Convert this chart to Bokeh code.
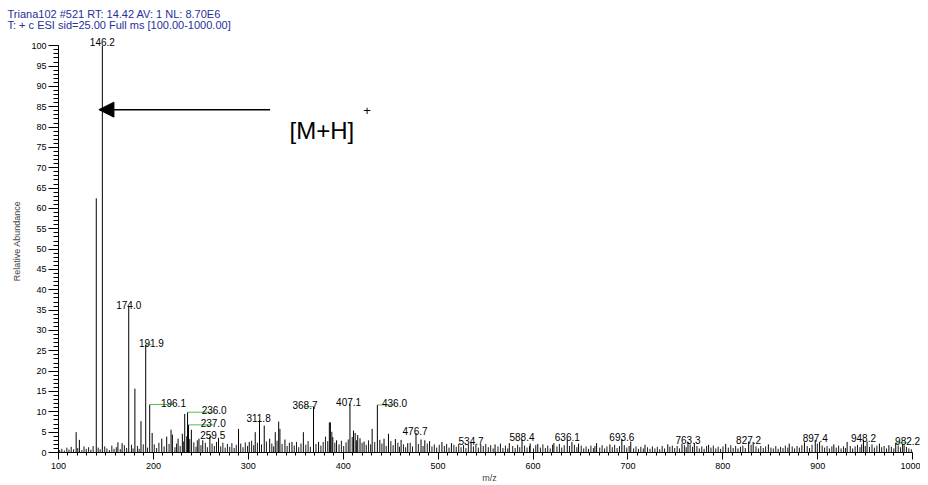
from bokeh.plotting import figure
from bokeh.models import Range1d, FixedTicker, Label, Arrow, NormalHead, ColumnDataSource, Title
from bokeh.core.properties import value
from bokeh.embed import file_html
from bokeh.resources import INLINE

# ---------------- data ----------------
header_1 = "Triana102 #521  RT: 14.42  AV: 1  NL: 8.70E6"
header_2 = "T: + c ESI sid=25.00  Full ms [100.00-1000.00]"

x_ticks = [100, 200, 300, 400, 500, 600, 700, 800, 900, 1000]
y_ticks = [0, 5, 10, 15, 20, 25, 30, 35, 40, 45, 50, 55, 60, 65, 70, 75, 80, 85, 90, 95, 100]

# distinct peaks (m/z, relative abundance)
peak_mz = [118.6, 122.0, 139.8, 146.2, 162.6, 167.0, 174.0, 180.5, 186.9, 191.9,
           196.1, 198.7, 208.8, 214.0, 218.6, 220.0, 226.0, 230.5, 233.0, 236.0,
           237.0, 240.0, 248.0, 252.0, 259.5, 268.6, 289.7, 301.0, 307.3, 311.8,
           316.8, 322.5, 328.4, 332.0, 333.3, 338.6, 346.0, 358.0, 368.7, 374.0,
           385.4, 386.5, 389.0, 393.0, 407.1, 410.8, 412.6, 415.3, 417.7, 422.0,
           430.5, 436.0, 438.6, 443.0, 447.7, 455.0, 461.0, 468.0, 476.7, 482.0,
           486.0, 491.0, 504.0, 514.0, 534.7, 545.0, 560.0, 575.0, 588.4, 597.0,
           605.0, 622.0, 636.1, 641.0, 648.0, 667.0, 681.0, 693.6, 703.0, 718.0,
           742.0, 757.0, 763.3, 770.0, 785.0, 803.0, 827.2, 832.0, 848.0, 870.0,
           886.0, 897.4, 902.0, 917.0, 931.0, 948.2, 952.0, 965.0, 975.0, 982.2, 991.0]
peak_int = [5.0, 3.1, 62.5, 100.0, 2.5, 2.3, 35.8, 15.7, 7.7, 26.5,
            11.8, 4.8, 3.4, 3.9, 5.6, 4.4, 3.4, 4.6, 9.5, 9.9,
            6.8, 5.6, 3.4, 3.0, 3.9, 3.4, 5.8, 2.6, 5.0, 7.9,
            6.6, 3.4, 5.0, 7.6, 5.8, 3.2, 2.6, 5.0, 11.3, 2.6,
            7.4, 7.4, 3.8, 3.0, 12.0, 5.4, 4.8, 4.3, 3.5, 2.7,
            5.8, 11.7, 3.1, 3.4, 4.6, 3.3, 3.1, 2.3, 4.8, 3.2,
            3.0, 2.8, 2.6, 2.3, 2.4, 1.9, 2.0, 2.3, 3.2, 2.2,
            2.1, 2.3, 3.2, 2.6, 2.2, 2.3, 2.0, 3.2, 2.7, 1.9,
            2.0, 2.2, 2.6, 2.3, 1.9, 2.1, 2.7, 2.6, 2.0, 2.2,
            2.5, 3.1, 2.6, 2.0, 2.6, 3.1, 2.7, 2.2, 1.8, 2.4, 1.8]

# low-level noise (m/z, relative abundance)
noise_mz = [101.2, 103.5, 106.1, 108.8, 111.0, 113.4, 115.9, 120.3, 124.6, 126.9,
            129.2, 131.7, 134.1, 136.5, 141.8, 143.9, 148.7, 151.0, 153.6, 156.2,
            158.5, 160.9, 165.1, 169.4, 171.8, 176.9, 178.6, 183.2, 185.0, 189.3,
            193.8, 200.9, 203.4, 205.8, 211.3, 216.5, 222.7, 224.4, 228.2, 231.9,
            235.1, 238.3, 242.6, 244.9, 246.3, 250.1, 254.7, 256.9, 261.8, 264.2,
            266.5, 270.9, 273.2, 275.6, 278.0, 280.4, 282.7, 285.1, 287.3, 292.0,
            294.4, 296.8, 299.2, 303.5, 305.7, 309.6, 313.9, 319.1, 324.8, 326.7,
            330.3, 335.6, 340.9, 343.3, 348.4, 350.8, 353.1, 355.5, 360.6, 363.0,
            365.4, 371.3, 376.5, 378.9, 381.3, 383.7, 388.0, 391.2, 395.6, 398.1,
            400.5, 403.0, 405.3, 409.5, 414.1, 419.9, 424.3, 426.7, 428.9, 433.2,
            440.8, 445.3, 450.2, 452.6, 457.6, 459.3, 463.5, 465.8, 470.6, 473.0,
            479.2, 484.1, 488.6, 493.5, 496.0, 498.5, 501.2, 506.6, 509.0, 511.5,
            516.6, 519.1, 521.7, 524.2, 526.8, 529.3, 531.9, 537.2, 539.8, 542.4,
            547.6, 550.2, 552.9, 555.4, 558.0, 563.1, 565.7, 568.3, 570.9, 573.4,
            578.6, 581.2, 583.8, 586.0, 591.1, 593.7, 596.3, 600.5, 602.9, 607.8,
            610.4, 613.0, 615.5, 618.1, 620.6, 625.2, 627.8, 630.3, 632.9, 638.5,
            643.6, 646.2, 650.8, 653.4, 655.9, 658.5, 661.0, 663.6, 665.2, 670.3,
            672.8, 675.4, 677.9, 683.5, 686.0, 688.6, 691.1, 696.2, 698.8, 701.3,
            706.0, 708.5, 711.1, 713.6, 716.2, 720.7, 723.3, 725.8, 728.4, 731.0,
            733.5, 736.1, 738.6, 744.2, 746.8, 749.3, 751.9, 754.4, 759.5, 761.4,
            765.6, 768.1, 772.7, 775.2, 777.8, 780.3, 782.9, 787.5, 790.0, 792.6,
            795.1, 797.7, 800.2, 805.8, 808.4, 810.9, 813.5, 816.0, 818.6, 821.1,
            823.7, 829.8, 834.9, 837.5, 840.0, 842.6, 845.1, 850.7, 853.2, 855.8,
            858.3, 860.9, 863.4, 865.9, 868.5, 873.1, 875.6, 878.2, 880.7, 883.3,
            888.9, 891.4, 894.0, 899.6, 904.7, 907.2, 909.8, 912.3, 914.9, 919.5,
            922.0, 924.6, 927.1, 929.2, 934.3, 936.8, 939.4, 941.9, 944.5, 946.3,
            950.1, 954.6, 957.2, 959.7, 962.3, 967.4, 970.0, 972.5, 977.6, 980.2,
            984.8, 987.3, 989.4, 993.5, 996.0, 998.6]
noise_int = [0.6, 0.9, 0.5, 1.2, 0.7, 1.4, 0.8, 1.1, 0.6, 1.5,
             0.9, 1.3, 0.7, 1.6, 1.2, 0.8, 1.5, 1.0, 0.6, 1.7,
             0.9, 1.3, 0.8, 1.8, 1.1, 1.9, 1.0, 1.6, 0.9, 2.0,
             1.2, 2.0, 1.1, 2.4, 1.5, 2.1, 1.3, 2.2, 1.6, 2.7,
             4.0, 3.3, 2.5, 1.4, 3.0, 1.8, 2.4, 1.3, 2.2, 1.6,
             2.6, 1.5, 2.4, 1.2, 2.1, 1.4, 2.3, 1.1, 1.9, 2.2,
             1.3, 2.5, 1.6, 2.9, 1.8, 2.4, 2.0, 2.7, 2.2, 1.5,
             2.9, 2.1, 1.6, 2.4, 1.7, 2.6, 1.3, 2.2, 1.9, 2.8,
             1.4, 2.1, 1.7, 2.6, 3.9, 2.8, 5.1, 2.4, 2.0, 2.9,
             1.6, 2.5, 3.2, 3.8, 3.0, 2.4, 1.9, 3.0, 2.0, 2.6,
             2.2, 1.6, 2.8, 1.8, 2.4, 1.4, 2.0, 1.3, 2.4, 1.5,
             2.1, 1.6, 2.2, 1.5, 2.0, 1.2, 1.9, 1.6, 2.1, 1.2,
             1.9, 1.4, 2.1, 1.3, 1.8, 1.1, 2.0, 1.5, 2.0, 1.2,
             1.6, 2.1, 1.3, 1.8, 1.0, 1.5, 2.2, 1.1, 1.7, 1.0,
             1.6, 1.1, 1.9, 1.3, 1.7, 1.2, 1.6, 1.0, 1.8, 1.2,
             2.0, 1.1, 1.7, 1.0, 1.9, 1.5, 2.1, 1.2, 1.8, 1.6,
             1.9, 1.3, 1.7, 1.0, 1.5, 0.9, 1.7, 1.1, 1.6, 1.2,
             1.8, 1.0, 1.5, 1.3, 1.9, 1.1, 1.6, 1.8, 1.2, 1.6,
             1.0, 1.5, 0.9, 1.4, 1.0, 1.3, 0.9, 1.5, 1.0, 1.4,
             0.8, 1.6, 1.0, 1.4, 1.7, 1.1, 1.6, 1.0, 1.8, 1.3,
             2.0, 1.4, 1.6, 1.0, 1.5, 0.9, 1.6, 1.2, 1.7, 1.0,
             1.4, 0.9, 1.5, 1.2, 1.8, 1.1, 1.6, 1.0, 1.4, 1.7,
             1.1, 1.9, 1.5, 1.0, 1.6, 1.1, 1.5, 1.2, 1.0, 1.6,
             0.9, 1.4, 1.1, 1.7, 1.2, 1.5, 1.0, 1.6, 1.2, 1.8,
             1.6, 1.1, 1.9, 2.2, 1.7, 1.2, 1.6, 1.0, 1.5, 1.2,
             1.7, 1.0, 1.5, 1.1, 1.6, 1.0, 1.5, 1.9, 1.3, 2.0,
             1.6, 1.4, 2.0, 1.2, 1.7, 1.3, 1.6, 1.0, 1.4, 1.0,
             1.7, 1.3, 2.0, 1.4, 1.0, 0.8]

# labelled peaks
label_text = ["146.2", "174.0", "191.9", "196.1", "236.0", "237.0", "259.5", "311.8",
              "368.7", "407.1", "436.0", "476.7", "534.7", "588.4", "636.1", "693.6",
              "763.3", "827.2", "897.4", "948.2", "982.2"]
label_mz = [146.2, 174.0, 191.9, 196.1, 236.0, 237.0, 259.5, 311.8,
            368.7, 407.1, 436.0, 476.7, 534.7, 588.4, 636.1, 693.6,
            763.3, 827.2, 897.4, 948.2, 982.2]
label_int = [100.0, 35.8, 26.5, 11.8, 9.9, 6.8, 3.9, 7.9,
             11.3, 12.0, 11.7, 4.8, 2.4, 3.2, 3.2, 3.2,
             2.6, 2.7, 3.1, 3.1, 2.4]

# ---------------- layout of labels (shift of label centre in m/z) ----------------
label_shift = {"191.9": 6.0, "196.1": 25.0, "236.0": 28.0, "237.0": 26.0,
               "259.5": 3.0, "311.8": -1.0, "368.7": -9.0, "407.1": -1.4,
               "436.0": 18.0, "476.7": -1.0, "982.2": 12.5}
label_x = [m + label_shift.get(t, 0.0) for m, t in zip(label_mz, label_text)]
lead = [i for i, t in enumerate(label_text) if t in
        ("191.9", "196.1", "236.0", "237.0", "259.5", "368.7", "436.0", "982.2")]
label_lift = [-4 if t == "146.2" else -2 for t in label_text]

FONT = "Liberation Sans"

p = figure(width=920, height=485,
           x_range=Range1d(100, 1008.3), y_range=Range1d(0, 104),
           output_backend="svg", toolbar_location=None,
           min_border_left=58, min_border_right=0,
           min_border_top=29, min_border_bottom=33)
p.outline_line_color = None
p.xgrid.grid_line_color = None
p.ygrid.grid_line_color = None
p.background_fill_color = "white"
p.border_fill_color = "white"

# header lines (titles above the frame)
p.add_layout(Title(text=header_2, align="left", offset=-51, standoff=-3,
                   text_font=FONT, text_font_size="11px", text_font_style="normal",
                   text_color="#26309c"), "above")
p.add_layout(Title(text=header_1, align="left", offset=-51, standoff=-2,
                   text_font=FONT, text_font_size="11px", text_font_style="normal",
                   text_color="#26309c"), "above")

# axes
xa = p.xaxis[0]
xa.ticker = FixedTicker(ticks=x_ticks, minor_ticks=list(range(100, 1001, 10)))
xa.bounds = (100, 1000)
xa.major_tick_out = 7
xa.major_tick_in = 0
xa.minor_tick_out = 3
xa.minor_tick_in = 0
xa.major_label_standoff = 3
xa.major_label_text_font = FONT
xa.major_label_text_font_size = "9px"
xa.major_label_text_color = "black"
xa.axis_line_color = "black"
xa.axis_label = "m/z"
xa.axis_label_text_font = FONT
xa.axis_label_text_font_size = "9px"
xa.axis_label_text_font_style = "normal"
xa.axis_label_standoff = 1

ya = p.yaxis[0]
ya.ticker = FixedTicker(ticks=y_ticks, minor_ticks=list(range(0, 101, 1)))
ya.bounds = (0, 100)
ya.major_tick_out = 10
ya.major_tick_in = 0
ya.minor_tick_out = 5
ya.minor_tick_in = 0
ya.major_label_standoff = 2
ya.major_label_text_font = FONT
ya.major_label_text_font_size = "9px"
ya.major_label_text_color = "black"
ya.axis_label = "Relative Abundance"
ya.axis_label_text_font = FONT
ya.axis_label_text_font_size = "9px"
ya.axis_label_text_font_style = "normal"
ya.axis_label_standoff = 6

# spectrum
noise_src = ColumnDataSource(dict(mz=noise_mz, inten=noise_int))
peak_src = ColumnDataSource(dict(mz=peak_mz, inten=peak_int))
p.segment(x0="mz", y0=0, x1="mz", y1="inten", source=noise_src,
          line_color="#1a1a1a", line_width=1)
p.segment(x0="mz", y0=0, x1="mz", y1="inten", source=peak_src,
          line_color="black", line_width=1)

# leader lines
p.segment(x0=[label_mz[i] for i in lead], y0=[label_int[i] for i in lead],
          x1=[label_x[i] for i in lead], y1=[label_int[i] for i in lead],
          line_color="#4fc24f", line_width=1)

# peak labels
label_src = ColumnDataSource(dict(x=label_x, y=label_int, text=label_text, dy=label_lift))
p.text(x="x", y="y", text="text", y_offset="dy", source=label_src,
       text_align="center", text_baseline="alphabetic",
       text_font=value(FONT), text_font_size="10px", text_color="black")

# [M+H]+ annotation
p.add_layout(Arrow(end=NormalHead(size=15, fill_color="black", line_color="black"),
                   x_start=323, y_start=84.3, x_end=142.6, y_end=84.3,
                   line_color="black", line_width=1.5))
p.add_layout(Label(x=343.5, y=79.1, text="[M+H]", text_font=FONT,
                   text_font_size="24px", text_color="black",
                   text_baseline="alphabetic"))
p.add_layout(Label(x=421.0, y=84.2, text="+", text_font=FONT,
                   text_font_size="13px", text_color="black",
                   text_baseline="alphabetic"))

open("out.html", "w").write(file_html(p, INLINE))
